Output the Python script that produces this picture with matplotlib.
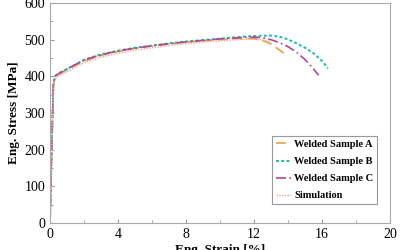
import matplotlib.pyplot as plt
import numpy as np
from matplotlib.ticker import MultipleLocator

plt.rcParams['font.family'] = ['Liberation Serif', 'DejaVu Serif']

# stress-strain data
strain_a = [0, 0.1, 0.2, 0.3, 0.5, 1, 2, 3, 4, 5, 6, 7, 8, 9, 10, 11, 12, 12.5, 13, 13.5, 13.9]
stress_a = [0, 200, 375, 398, 405, 418, 442, 457, 468, 476, 483, 488, 493, 497, 500, 503, 503, 498, 488, 472, 458]

strain_b = [0, 0.1, 0.2, 0.3, 0.5, 1, 2, 3, 4, 5, 6, 7, 8, 9, 10, 11, 12, 13, 13.5, 14, 14.5, 15, 15.5, 16, 16.35]
stress_b = [0, 200, 380, 400, 408, 420, 445, 460, 470, 478, 484, 490, 495, 499, 503, 507, 510, 511, 508, 501, 490, 478, 463, 442, 422]

strain_c = [0, 0.1, 0.2, 0.3, 0.5, 1, 2, 3, 4, 5, 6, 7, 8, 9, 10, 11, 12, 12.5, 13, 13.5, 14, 14.5, 15, 15.5, 15.8]
stress_c = [0, 205, 382, 401, 407, 420, 444, 459, 469, 477, 483, 489, 494, 498, 502, 505, 507, 505, 500, 492, 481, 466, 446, 420, 403]

strain_sim = [0, 0.1, 0.2, 0.3, 0.5, 1, 2, 3, 4, 5, 6, 7, 8, 9, 10, 11, 12, 12.5, 13]
stress_sim = [0, 195, 370, 393, 400, 413, 437, 452, 463, 471, 478, 484, 489, 493, 497, 500, 501, 499, 494]

fig = plt.figure(figsize=(4, 2.5), dpi=100)
ax = fig.add_axes([0.125, 0.108, 0.85, 0.88])

ax.plot(strain_a, stress_a, color='#f0a040', linestyle=(0, (6, 3)), linewidth=1.2, label='Welded Sample A')
ax.plot(strain_b, stress_b, color='#18c0a0', linestyle=(0, (1.5, 1.2)), linewidth=1.4, label='Welded Sample B')
ax.plot(strain_c, stress_c, color='#b04890', linestyle=(0, (6, 2, 1, 2)), linewidth=1.2, label='Welded Sample C')
ax.plot(strain_sim, stress_sim, color='#f4a0a0', linestyle=(0, (1, 1)), linewidth=1.0, label='Simulation')

ax.set_xlim(0, 20)
ax.set_ylim(0, 600)
ax.xaxis.set_major_locator(MultipleLocator(4))
ax.xaxis.set_minor_locator(MultipleLocator(2))
ax.yaxis.set_major_locator(MultipleLocator(100))
ax.yaxis.set_minor_locator(MultipleLocator(50))
ax.tick_params(which='both', direction='in', color='#999999', labelsize=10)
ax.tick_params(which='major', length=3)
ax.tick_params(which='minor', length=2)
for s in ax.spines.values():
    s.set_color('#aaaaaa')

ax.set_xlabel('Eng. Strain [%]', fontsize=9.5, fontweight='bold', labelpad=2)
ax.set_ylabel('Eng. Stress [MPa]', fontsize=9.5, fontweight='bold', labelpad=3)

leg = ax.legend(loc='lower right', bbox_to_anchor=(0.962, 0.086), prop={'weight': 'bold', 'size': 7.5},
                fancybox=False, edgecolor='#999999', framealpha=1, handlelength=1.5, handletextpad=0.3,
                borderpad=0.35, labelspacing=0.75, borderaxespad=0)
leg.get_frame().set_linewidth(0.8)

fig.savefig('out.png', dpi=100)
